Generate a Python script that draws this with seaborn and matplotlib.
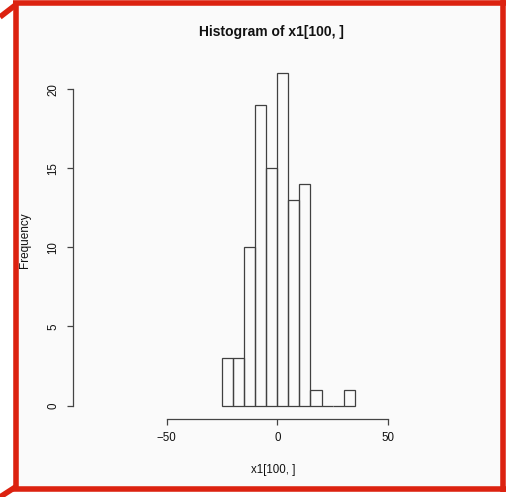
import matplotlib
matplotlib.use("Agg")
import matplotlib.pyplot as plt
from matplotlib.lines import Line2D
from matplotlib.patches import Rectangle
import seaborn as sns
import numpy as np

# Data
bin_edges = [-25, -20, -15, -10, -5, 0, 5, 10, 15, 20, 25, 30, 35]
counts = [3, 3, 10, 19, 15, 21, 13, 14, 1, 0, 0, 1]
x_ticks = [-50, 0, 50]
y_ticks = [0, 5, 10, 15, 20]
title = "Histogram of x1[100, ]"
xlabel = "x1[100, ]"
ylabel = "Frequency"

W, H = 513, 497
DPI = 100
sns.set_theme(style="white")
plt.rcParams['font.family'] = ['Liberation Sans', 'DejaVu Sans']

fig = plt.figure(figsize=(W / DPI, H / DPI), dpi=DPI, facecolor="white")

def fx(px):
    return px / W

def fy(py):
    return 1 - py / H

# light background panel inside the frame
fig.add_artist(Rectangle((fx(16), fy(488)), fx(503) - fx(16), fy(3) - fy(488),
                         transform=fig.transFigure, facecolor="#fafafa",
                         edgecolor="none", zorder=0))

left, right, top, bottom = 73, 470, 60, 418.8
ax = fig.add_axes([fx(left), fy(bottom), fx(right) - fx(left), fy(top) - fy(bottom)])
ax.set_facecolor("none")

centers = [(a + b) / 2 for a, b in zip(bin_edges[:-1], bin_edges[1:])]
sns.histplot(x=centers, weights=counts, bins=bin_edges, fill=False,
             element="bars", color="#404040", linewidth=0.9, ax=ax)

xlo = (left - 277.3) / 2.21
xhi = (right - 277.3) / 2.21
ax.set_xlim(xlo, xhi)
ax.set_ylim(-0.84, 21.84)

for s in ["top", "right"]:
    ax.spines[s].set_visible(False)
ax.spines["bottom"].set_bounds(-50, 50)
ax.spines["left"].set_bounds(0, 20)
for s in ["bottom", "left"]:
    ax.spines[s].set_color("#444444")
    ax.spines[s].set_linewidth(0.9)

ax.set_xticks(x_ticks)
ax.set_yticks(y_ticks)
ax.set_xticklabels([str(v).replace("-", "\u2212") for v in x_ticks])
ax.set_yticklabels([str(v) for v in y_ticks], rotation=90, va="center")
ax.tick_params(axis="both", which="major", direction="out", length=4.3,
               width=0.9, color="#444444", labelsize=8.3, labelcolor="#111111",
               bottom=True, left=True)
ax.tick_params(axis="x", pad=5.5)
ax.tick_params(axis="y", pad=5.5)

axes_h = bottom - top
ax.set_title(title, fontsize=10, fontweight="bold", color="#111111",
             y=1 + (top - 32) / axes_h, va="center", pad=0)
ax.set_xlabel(xlabel, fontsize=8.3, color="#111111")
ax.set_ylabel(ylabel, fontsize=8.5, color="#111111")
ax.xaxis.set_label_coords(fx(273.5), fy(470), transform=fig.transFigure)
ax.xaxis.label.set_va("center")
ax.yaxis.set_label_coords(fx(25), fy(240), transform=fig.transFigure)
ax.yaxis.label.set_va("center")

# red frame
red = "#dc2210"
frame = [
    ([15.5, 15.5], [3, 490]),
    ([13, 506], [3, 3]),
    ([503, 503], [0, 492]),
    ([13, 506], [489, 489]),
    ([0, 15.5], [17, 5]),
    ([0, 15.5], [497, 487]),
]
for xs, ys in frame:
    fig.add_artist(Line2D([fx(v) for v in xs], [fy(v) for v in ys],
                          transform=fig.transFigure, color=red,
                          linewidth=4.0, solid_capstyle="butt", zorder=5))

fig.savefig("out.png", dpi=DPI, facecolor=fig.get_facecolor())
